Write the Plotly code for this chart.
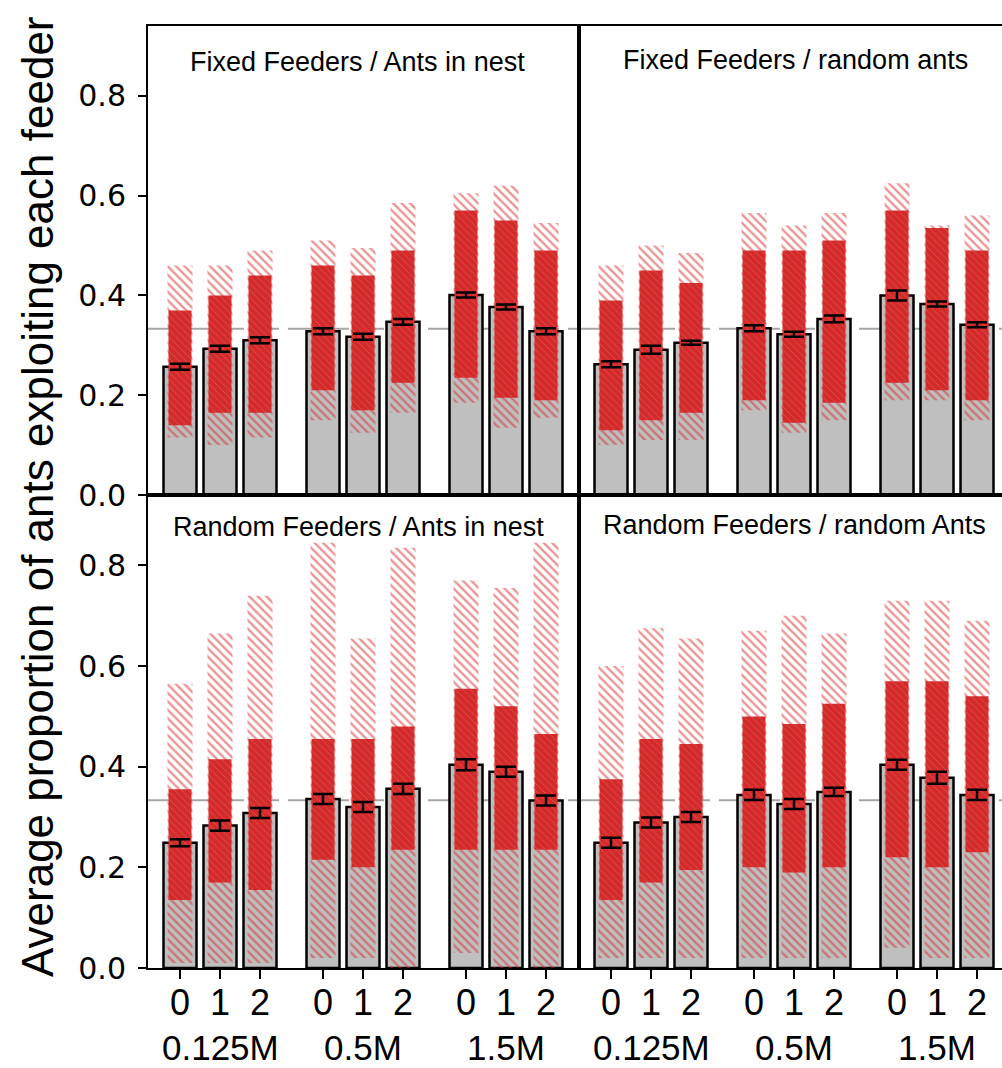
import plotly.graph_objects as go
from plotly.subplots import make_subplots

# ---------------- data ----------------
panel_titles = ["Fixed Feeders / Ants in nest", "Fixed Feeders / random ants",
                "Random Feeders / Ants in nest", "Random Feeders / random Ants"]
concentrations = ["0.125M", "0.5M", "1.5M"]
levels = ["0", "1", "2"]

# mean proportion per bar (concentration-major, then level)
mean_tl = [0.257, 0.293, 0.310, 0.328, 0.317, 0.347, 0.401, 0.377, 0.328]
mean_tr = [0.262, 0.291, 0.305, 0.334, 0.322, 0.353, 0.400, 0.383, 0.341]
mean_bl = [0.249, 0.283, 0.308, 0.336, 0.320, 0.356, 0.404, 0.390, 0.333]
mean_br = [0.249, 0.289, 0.300, 0.344, 0.326, 0.350, 0.404, 0.378, 0.344]

# standard error
se_tl = [0.006, 0.006, 0.006, 0.006, 0.006, 0.006, 0.005, 0.005, 0.006]
se_tr = [0.006, 0.008, 0.004, 0.006, 0.005, 0.007, 0.010, 0.005, 0.005]
se_bl = [0.007, 0.010, 0.010, 0.010, 0.010, 0.010, 0.011, 0.010, 0.010]
se_br = [0.010, 0.010, 0.010, 0.010, 0.010, 0.008, 0.010, 0.012, 0.010]

# extent of the replicate point clouds
# sparse tail low / dense core low / dense core high / sparse tail high
tail_lo_tl = [0.115, 0.100, 0.115, 0.150, 0.125, 0.165, 0.185, 0.135, 0.155]
core_lo_tl = [0.140, 0.165, 0.165, 0.210, 0.170, 0.225, 0.235, 0.195, 0.190]
core_hi_tl = [0.370, 0.400, 0.440, 0.460, 0.440, 0.490, 0.570, 0.550, 0.490]
tail_hi_tl = [0.460, 0.460, 0.490, 0.510, 0.495, 0.585, 0.605, 0.620, 0.545]

tail_lo_tr = [0.100, 0.110, 0.110, 0.170, 0.125, 0.150, 0.190, 0.190, 0.150]
core_lo_tr = [0.130, 0.150, 0.165, 0.190, 0.145, 0.185, 0.225, 0.210, 0.190]
core_hi_tr = [0.390, 0.450, 0.425, 0.490, 0.490, 0.510, 0.570, 0.535, 0.490]
tail_hi_tr = [0.460, 0.500, 0.485, 0.565, 0.540, 0.565, 0.625, 0.540, 0.560]

tail_lo_bl = [0.010, 0.010, 0.010, 0.020, 0.020, 0.000, 0.030, 0.000, 0.000]
core_lo_bl = [0.135, 0.170, 0.155, 0.215, 0.200, 0.235, 0.235, 0.235, 0.235]
core_hi_bl = [0.355, 0.415, 0.455, 0.455, 0.455, 0.480, 0.555, 0.520, 0.465]
tail_hi_bl = [0.565, 0.665, 0.740, 0.845, 0.655, 0.835, 0.770, 0.755, 0.845]

tail_lo_br = [0.020, 0.020, 0.020, 0.020, 0.020, 0.020, 0.040, 0.020, 0.020]
core_lo_br = [0.135, 0.170, 0.195, 0.200, 0.190, 0.200, 0.220, 0.200, 0.230]
core_hi_br = [0.375, 0.455, 0.445, 0.500, 0.485, 0.525, 0.570, 0.570, 0.540]
tail_hi_br = [0.600, 0.675, 0.655, 0.670, 0.700, 0.665, 0.730, 0.730, 0.690]

chance_level = 1 / 3
y_ticks = [0.0, 0.2, 0.4, 0.6, 0.8]

# ---------------- figure ----------------
W, H = 1002, 1068
fig = make_subplots(rows=2, cols=2, horizontal_spacing=0, vertical_spacing=0)

panels = [
    (1, 1, mean_tl, se_tl, tail_lo_tl, core_lo_tl, core_hi_tl, tail_hi_tl),
    (1, 2, mean_tr, se_tr, tail_lo_tr, core_lo_tr, core_hi_tr, tail_hi_tr),
    (2, 1, mean_bl, se_bl, tail_lo_bl, core_lo_bl, core_hi_bl, tail_hi_bl),
    (2, 2, mean_br, se_br, tail_lo_br, core_lo_br, core_hi_br, tail_hi_br),
]

RED = "#d42a2a"
GRAY = "#bfbfbf"
FONT = "Liberation Sans, Arial, sans-serif"

# bar positions from category indices (axis unit ~ 1 px)
xpos = []
xlab = []
for g, _c in enumerate(concentrations):
    for l, lv in enumerate(levels):
        xpos.append(32 + g * 143 + l * 40)
        xlab.append(lv)
group_centres = [32 + g * 143 + 40 for g in range(len(concentrations))]

for r, c, mean, se, tlo, clo, chi, thi in panels:
    fig.add_trace(go.Bar(x=xpos, y=mean, width=33, marker=dict(color=GRAY, line=dict(color="black", width=2.5)),
                         showlegend=False, hoverinfo="skip"), row=r, col=c)
    fig.add_trace(go.Bar(x=xpos, y=[h - b for h, b in zip(thi, tlo)], base=tlo, width=25,
                         marker=dict(color="rgba(0,0,0,0)", line=dict(width=0),
                                     pattern=dict(shape="\\", fgcolor=RED, bgcolor="rgba(0,0,0,0)",
                                                  size=6, solidity=0.4, fillmode="overlay")),
                         showlegend=False, hoverinfo="skip"), row=r, col=c)
    fig.add_trace(go.Bar(x=xpos, y=[h - b for h, b in zip(chi, clo)], base=clo, width=23,
                         marker=dict(color=RED, line=dict(width=0),
                                     pattern=dict(shape="\\", fgcolor="rgba(255,255,255,0.45)",
                                                  size=5, solidity=0.15, fillmode="overlay")),
                         showlegend=False, hoverinfo="skip"), row=r, col=c)
    fig.add_trace(go.Scatter(x=xpos, y=mean, mode="markers", marker=dict(size=1, color="rgba(0,0,0,0)"),
                             error_y=dict(type="data", array=se, color="black", thickness=2.5, width=10),
                             showlegend=False, hoverinfo="skip"), row=r, col=c)

fig.update_layout(barmode="overlay", width=W, height=H, margin=dict(l=0, r=0, t=0, b=0, autoexpand=False),
                  paper_bgcolor="white", plot_bgcolor="white",
                  font=dict(family=FONT, color="black"))

x_left = [148 / W, 579 / W]
x_right = [579 / W, 1.0]
y_top = [(H - 495) / H, (H - 26) / H]
y_bot = [(H - 968) / H, (H - 495) / H]

common_x = dict(showgrid=False, zeroline=False, showline=True, linecolor="black", linewidth=2, mirror=True,
                automargin=False, showticklabels=False)
fig.update_xaxes(**common_x)
fig.update_xaxes(domain=x_left, range=[0, 431], row=1, col=1, ticks="")
fig.update_xaxes(domain=x_right, range=[0, 423], row=1, col=2, ticks="")
for col, dom, rng in [(1, x_left, [0, 431]), (2, x_right, [0, 423])]:
    fig.update_xaxes(domain=dom, range=rng, row=2, col=col, tickmode="array", tickvals=xpos,
                     ticks="outside", ticklen=9, tickwidth=2, tickcolor="black")

common_y = dict(showgrid=False, zeroline=False, showline=True, linecolor="black", linewidth=2, range=[0, 0.94],
                automargin=False)
fig.update_yaxes(**common_y)
for row, dom in [(1, y_top), (2, y_bot)]:
    fig.update_yaxes(domain=dom, row=row, col=1, mirror=True, tickmode="array", tickvals=y_ticks,
                     ticktext=[f"{v:.1f}" for v in y_ticks], ticks="outside", ticklen=8, tickwidth=2,
                     tickcolor="black", ticklabelstandoff=6,
                     tickfont=dict(size=30, family="DejaVu Sans, Verdana, sans-serif"))
    fig.update_yaxes(domain=dom, row=row, col=2, mirror=False, showticklabels=False, ticks="")

# chance-level dashed line in each panel
axis_names = [("x", "y"), ("x2", "y2"), ("x3", "y3"), ("x4", "y4")]
for xa, ya in axis_names:
    fig.add_shape(type="line", xref=f"{xa} domain", yref=ya, x0=0, x1=1, y0=chance_level, y1=chance_level,
                  line=dict(color="#a6a6a6", width=2, dash="26px,9px"), layer="below")

# panel titles
title_pos = [(357, 62), (795, 60), (358, 527), (794, 525)]
for t, (px, py) in zip(panel_titles, title_pos):
    fig.add_annotation(text=t, xref="paper", yref="paper", x=px / W, y=(H - py) / H,
                       xanchor="center", yanchor="middle", showarrow=False,
                       font=dict(size=27, family=FONT))

# level labels (0/1/2) and concentration labels under each group
for xa in ["x3", "x4"]:
    for xp, lab in zip(xpos, xlab):
        fig.add_annotation(text=lab, xref=xa, yref="paper", x=xp, y=(H - 1002) / H,
                           xanchor="center", yanchor="middle", showarrow=False,
                           font=dict(size=36, family=FONT))
    for gc, lab in zip(group_centres, concentrations):
        fig.add_annotation(text=lab, xref=xa, yref="paper", x=gc, y=0.0,
                           xanchor="center", yanchor="bottom", showarrow=False, borderpad=0,
                           font=dict(size=35, family=FONT))

# y-axis title
fig.add_annotation(text="Average proportion of ants exploiting each feeder", xref="paper", yref="paper",
                   x=38 / W, y=(H - 497) / H, xanchor="center", yanchor="middle", textangle=-90,
                   showarrow=False, font=dict(size=44, family=FONT))

fig.write_html("out.html")
